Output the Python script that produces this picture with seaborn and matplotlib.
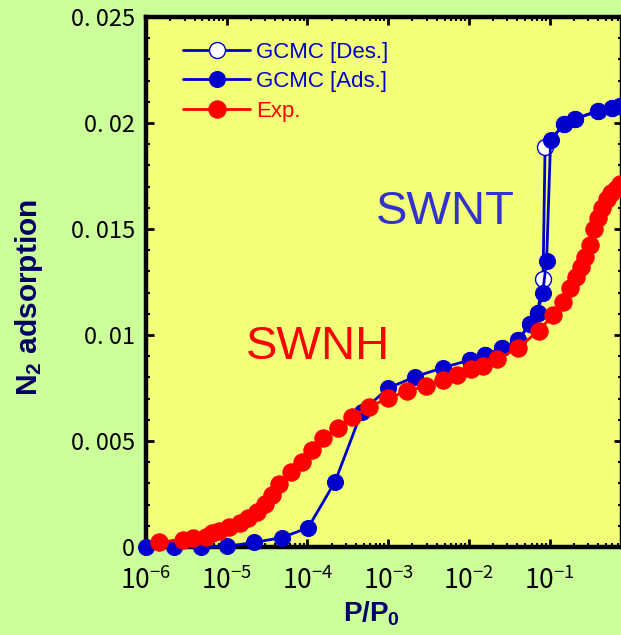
import matplotlib
matplotlib.use("Agg")
import matplotlib.pyplot as plt
import pandas as pd
import seaborn as sns

# GCMC desorption branch (SWNT)
des_p = [0.75, 0.59, 0.40, 0.207, 0.151, 0.088, 0.083, 0.071, 0.057, 0.041, 0.026, 0.0158, 0.0103]
des_n = [0.0208, 0.0207, 0.02055, 0.0202, 0.01995, 0.01888, 0.01264, 0.01105, 0.01052, 0.00976,
         0.00937, 0.00906, 0.00882]

# GCMC adsorption branch (SWNT)
ads_p = [1e-6, 2.2e-6, 4.8e-6, 1.0e-5, 2.2e-5, 4.8e-5, 1.02e-4, 2.2e-4, 4.7e-4, 1.0e-3, 2.15e-3,
         4.8e-3, 1.03e-2, 1.58e-2, 2.6e-2, 4.1e-2, 5.7e-2, 7.1e-2, 0.082, 0.092, 0.103, 0.151,
         0.207, 0.40, 0.59, 0.75]
ads_n = [0.0, 0.0, 0.0, 0.00003, 0.00022, 0.00044, 0.00091, 0.00308, 0.00638, 0.00749, 0.00803,
         0.00846, 0.00882, 0.00906, 0.00937, 0.00976, 0.01052, 0.01105, 0.01197, 0.0135, 0.0192,
         0.01995, 0.0202, 0.02058, 0.0207, 0.0208]

# Experiment (SWNH)
exp_p = [1.46e-6, 2.9e-6, 3.85e-6, 5.5e-6, 6.5e-6, 8.1e-6, 1.07e-5, 1.46e-5, 1.85e-5, 2.35e-5,
         3.0e-5, 3.6e-5, 4.4e-5, 6.3e-5, 8.5e-5, 1.13e-4, 1.54e-4, 2.4e-4, 3.6e-4, 5.8e-4,
         1.0e-3, 1.73e-3, 2.96e-3, 4.8e-3, 7.1e-3, 1.05e-2, 1.5e-2, 2.25e-2, 4.1e-2, 0.073,
         0.111, 0.145, 0.18, 0.21, 0.243, 0.275, 0.32, 0.36, 0.40, 0.45, 0.51, 0.58, 0.66, 0.75]
exp_n = [0.00025, 0.00033, 0.00041, 0.00049, 0.00065, 0.00077, 0.00096, 0.00115, 0.00138, 0.00167,
         0.00203, 0.00245, 0.00296, 0.00352, 0.00402, 0.00458, 0.00513, 0.00563, 0.00612, 0.00662,
         0.00701, 0.00737, 0.00759, 0.00788, 0.00811, 0.00838, 0.00855, 0.00885, 0.0094, 0.0102,
         0.01094, 0.01157, 0.0122, 0.01275, 0.01322, 0.01369, 0.01425, 0.0150, 0.0155, 0.0160,
         0.0164, 0.0167, 0.0169, 0.0171]

y_ticks = [0, 0.005, 0.01, 0.015, 0.02, 0.025]
y_tick_labels = ["0", "0. 005", "0. 01", "0. 015", "0. 02", "0. 025"]

BLUE = "#0000CC"
RED = "#FF0000"
NAVY = "#000066"
TICK_FONT = ["Noto Sans CJK JP", "DejaVu Sans"]

sns.set_style("ticks")
plt.rcParams["font.family"] = ["Liberation Sans", "DejaVu Sans"]
plt.rcParams["mathtext.default"] = "regular"

fig = plt.figure(figsize=(6.21, 6.35), dpi=100, facecolor="#CCFF99")
ax = fig.add_axes([146 / 621, 88 / 635, 476 / 621, 530 / 635])
ax.set_facecolor("#F3FF78")

des_df = pd.DataFrame({"p": des_p, "n": des_n})
ads_df = pd.DataFrame({"p": ads_p, "n": ads_n})
exp_df = pd.DataFrame({"p": exp_p, "n": exp_n})

sns.lineplot(data=des_df, x="p", y="n", ax=ax, sort=False, color=BLUE, lw=2,
             marker="o", markersize=11.5, markerfacecolor="white", markeredgecolor=BLUE,
             markeredgewidth=1.0, label="GCMC [Des.]", clip_on=False, zorder=3)
sns.lineplot(data=ads_df, x="p", y="n", ax=ax, sort=False, color=BLUE, lw=2,
             marker="o", markersize=11.5, markerfacecolor=BLUE, markeredgecolor=BLUE,
             label="GCMC [Ads.]", clip_on=False, zorder=4)
sns.lineplot(data=exp_df, x="p", y="n", ax=ax, sort=False, color=RED, lw=2,
             marker="o", markersize=12.5, markerfacecolor=RED, markeredgecolor=RED,
             label="Exp.", clip_on=False, zorder=5)

ax.set_xscale("log")
ax.set_xlim(1e-6, 0.79)
ax.set_ylim(0, 0.025)

ax.set_yticks(y_ticks)
ax.set_yticklabels(y_tick_labels, family=TICK_FONT, fontsize=17)
ax.yaxis.set_minor_locator(matplotlib.ticker.MultipleLocator(0.001))
ax.xaxis.set_major_locator(matplotlib.ticker.LogLocator(base=10, numticks=12))
ax.xaxis.set_minor_locator(matplotlib.ticker.LogLocator(base=10, subs=range(2, 10), numticks=12))
ax.xaxis.set_major_formatter(matplotlib.ticker.LogFormatterMathtext())

ax.tick_params(which="both", direction="in", top=True, right=True, colors="black")
ax.tick_params(which="major", length=6, width=2)
ax.tick_params(which="minor", length=3, width=1.5)
ax.tick_params(axis="x", which="major", pad=14, labelsize=19, labelfontfamily=TICK_FONT)
ax.tick_params(axis="y", which="major", pad=8, labelsize=17, labelfontfamily=TICK_FONT)
for sp in ax.spines.values():
    sp.set_linewidth(3.2)
    sp.set_color("black")

ax.set_xlabel("P/P$_0$", fontsize=20, fontweight="bold", color=NAVY)
ax.xaxis.set_label_coords(0.473, -0.1)
ax.set_ylabel("N$_2$ adsorption", fontsize=21.5, fontweight="bold", color=NAVY)
ax.yaxis.set_label_coords(-0.212, 0.47)

ax.text(0.63, 0.632, "SWNT", transform=ax.transAxes, fontsize=34, color="#3333CC",
        ha="center", va="center")
ax.text(0.361, 0.377, "SWNH", transform=ax.transAxes, fontsize=34, color=RED,
        ha="center", va="center")

leg = ax.legend(loc="upper left", bbox_to_anchor=(0.06, 0.97), frameon=False, fontsize=16,
                handlelength=3.0, handletextpad=0.25, labelspacing=0.38,
                labelcolor=[BLUE, BLUE, RED], borderaxespad=0)

fig.savefig("out.png", dpi=100, facecolor=fig.get_facecolor())
